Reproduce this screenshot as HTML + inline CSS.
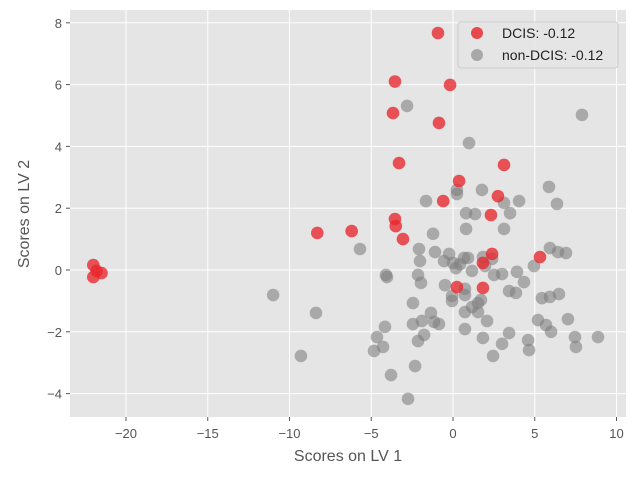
<!DOCTYPE html>
<html><head><meta charset="utf-8"><style>
body{margin:0;background:#fff;}
svg{font-family:"Liberation Sans","DejaVu Sans",sans-serif;}
</style></head><body>
<svg id="chart" width="640" height="480" xmlns="http://www.w3.org/2000/svg">
<rect x="0" y="0" width="640" height="480" fill="#fff"/>
<rect x="70" y="10" width="556" height="407" fill="#E5E5E5"/>
<g id="grid"></g>
<g id="ticks"></g>
<g id="points"></g>
<text x="348" y="461" text-anchor="middle" font-size="16" fill="#555">Scores on LV 1</text>
<text x="29" y="214" text-anchor="middle" font-size="16" fill="#555" transform="rotate(-90 29 214)">Scores on LV 2</text>
<g>
<rect x="458" y="22" width="160" height="46" rx="3" fill="#E5E5E5" fill-opacity="0.8" stroke="#ccc"/>
<circle cx="477" cy="33" r="6" fill="#E8474B"/>
<text x="502" y="38" font-size="14" fill="#222">DCIS: -0.12</text>
<circle cx="477" cy="55" r="6" fill="#A8A8A8"/>
<text x="502" y="60" font-size="14" fill="#222">non-DCIS: -0.12</text>
</g>
</svg>
<script>
const xTicks=[-20,-15,-10,-5,0,5,10];
const yTicks=[-4,-2,0,2,4,6,8];
const dcisX=[-22.0,-21.8,-22.0,-21.5,-8.3,-6.2,-3.55,-3.67,-3.3,-3.55,-3.5,-3.06,-0.92,-0.86,-0.18,-0.6,0.37,0.24,2.32,2.39,2.75,3.12,1.83,1.83,5.32];
const dcisY=[0.16,-0.03,-0.23,-0.1,1.2,1.26,6.1,5.08,3.46,1.65,1.42,1.0,7.67,4.76,5.99,2.23,2.88,-0.55,1.78,0.52,2.39,3.4,0.23,-0.58,0.42];
const nonX=[0.98,5.87,6.36,1.77,0.24,0.24,-1.65,3.12,4.04,3.49,0.8,1.35,0.8,3.12,-1.22,-5.69,-2.08,-1.1,-2.02,-0.24,-0.55,0,0.18,0.43,0.67,0.92,1.16,1.83,2.39,1.96,2.51,3.0,3.91,4.34,4.95,5.93,6.42,6.91,-4.1,-4.04,-2.14,-1.96,-0.49,0.73,0.73,-0.06,-0.06,-2.45,3.43,3.85,5.44,5.93,6.48,1.53,1.71,1.16,0.73,1.53,-1.35,-1.16,-0.86,-1.9,-2.45,2.08,5.2,5.69,6.0,7.03,-4.16,-4.65,-4.28,-4.83,-2.14,-1.77,0.73,1.83,3.43,3.0,4.59,4.65,2.45,7.46,7.52,8.87,-2.32,-3.79,-2.75,-11.0,-9.3,-8.38,-2.81,7.89];
const nonY=[4.11,2.69,2.14,2.59,2.59,2.46,2.23,2.17,2.23,1.84,1.84,1.81,1.33,1.33,1.17,0.68,0.68,0.58,0.29,0.52,0.29,0.23,0.06,0.19,0.39,0.39,-0.03,0.42,0.36,0.13,-0.16,-0.13,-0.06,-0.39,0.13,0.71,0.58,0.55,-0.16,-0.23,-0.16,-0.42,-0.49,-0.61,-0.81,-0.84,-1.0,-1.07,-0.68,-0.74,-0.91,-0.87,-0.78,-1.07,-0.97,-1.2,-1.36,-1.36,-1.39,-1.68,-1.75,-1.65,-1.75,-1.65,-1.62,-1.78,-2.0,-1.59,-1.84,-2.17,-2.49,-2.62,-2.3,-2.1,-1.91,-2.2,-2.04,-2.39,-2.27,-2.59,-2.78,-2.17,-2.49,-2.17,-3.11,-3.4,-4.17,-0.81,-2.78,-1.39,5.31,5.02];

const NS="http://www.w3.org/2000/svg";
function sx(v){return 453+v*16.35;}
function sy(v){return 270-v*30.9;}
const grid=document.getElementById('grid');
const ticks=document.getElementById('ticks');
xTicks.forEach(t=>{
  const l=document.createElementNS(NS,'line');
  l.setAttribute('x1',sx(t));l.setAttribute('x2',sx(t));l.setAttribute('y1',10);l.setAttribute('y2',417);
  l.setAttribute('stroke','#fff');l.setAttribute('stroke-width','1');
  
  
  grid.appendChild(l);
  const k=document.createElementNS(NS,'line');
  k.setAttribute('x1',sx(t));k.setAttribute('x2',sx(t));k.setAttribute('y1',417);k.setAttribute('y2',421);
  k.setAttribute('stroke','#555');
  
  
  ticks.appendChild(k);
  const tx=document.createElementNS(NS,'text');
  tx.setAttribute('x',sx(t));tx.setAttribute('y',438);tx.setAttribute('text-anchor','middle');
  tx.setAttribute('font-size','13');tx.setAttribute('fill','#555');
  tx.textContent=t<0?'\u2212'+Math.abs(t):String(t);
  
  
  ticks.appendChild(tx);
});
yTicks.forEach(t=>{
  const l=document.createElementNS(NS,'line');
  l.setAttribute('x1',70);l.setAttribute('x2',626);l.setAttribute('y1',sy(t));l.setAttribute('y2',sy(t));
  l.setAttribute('stroke','#fff');l.setAttribute('stroke-width','1');
  
  
  grid.appendChild(l);
  const k=document.createElementNS(NS,'line');
  k.setAttribute('x1',66);k.setAttribute('x2',70);k.setAttribute('y1',sy(t));k.setAttribute('y2',sy(t));
  k.setAttribute('stroke','#555');
  
  
  ticks.appendChild(k);
  const tx=document.createElementNS(NS,'text');
  tx.setAttribute('x',62);tx.setAttribute('y',sy(t)+5);tx.setAttribute('text-anchor','end');
  tx.setAttribute('font-size','13');tx.setAttribute('fill','#555');
  tx.textContent=t<0?'\u2212'+Math.abs(t):String(t);
  
  
  ticks.appendChild(tx);
});
const pts=document.getElementById('points');
nonX.forEach((v,i)=>{
  const c=document.createElementNS(NS,'circle');
  c.setAttribute('cx',sx(v));c.setAttribute('cy',sy(nonY[i]));c.setAttribute('r',6.3);
  c.setAttribute('fill','#808080');c.setAttribute('fill-opacity','0.6');
  
  
  pts.appendChild(c);
});
dcisX.forEach((v,i)=>{
  const c=document.createElementNS(NS,'circle');
  c.setAttribute('cx',sx(v));c.setAttribute('cy',sy(dcisY[i]));c.setAttribute('r',6.3);
  c.setAttribute('fill','#E8262B');c.setAttribute('fill-opacity','0.78');
  
  
  pts.appendChild(c);
});
</script>
</body></html>
